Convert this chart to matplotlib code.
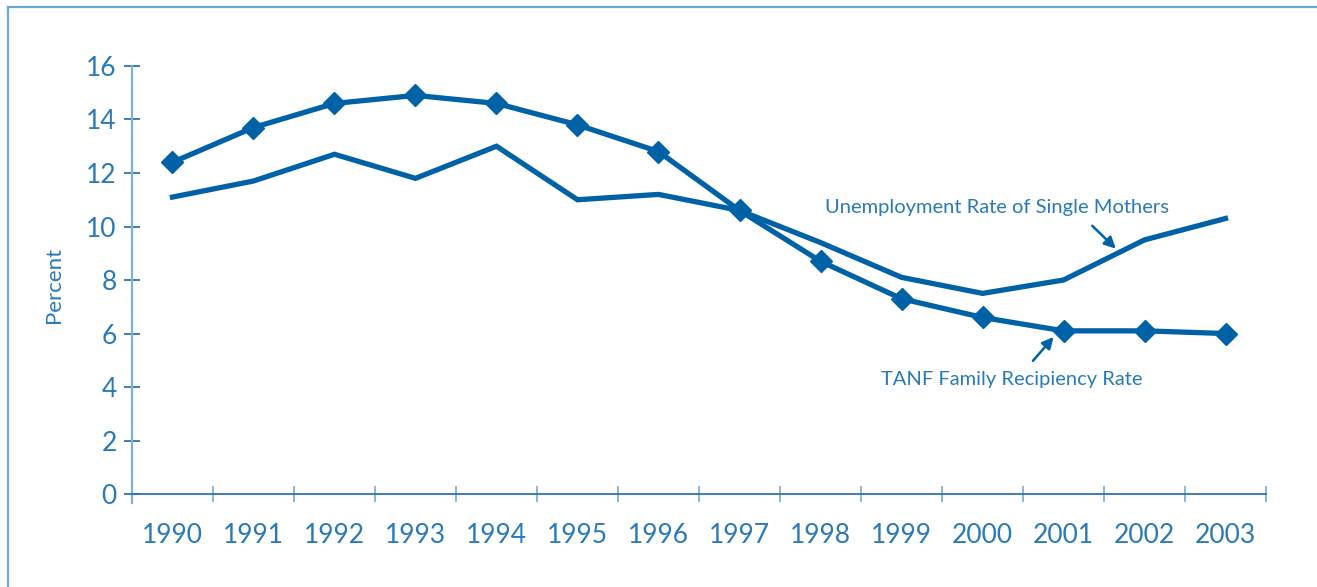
"""TANF family recipiency rate vs. unemployment rate of single mothers, 1990-2003."""
import matplotlib

matplotlib.use('Agg')
import matplotlib.pyplot as plt
from matplotlib.lines import Line2D

plt.rcParams['font.family'] = ['Lato', 'DejaVu Sans']

years = ['1990', '1991', '1992', '1993', '1994', '1995', '1996',
         '1997', '1998', '1999', '2000', '2001', '2002', '2003']
tanf_rate = [12.4, 13.7, 14.6, 14.9, 14.6, 13.8, 12.8,
             10.6, 8.7, 7.3, 6.6, 6.1, 6.1, 6.0]
unemp_rate = [11.1, 11.7, 12.7, 11.8, 13.0, 11.0, 11.2,
              10.6, 9.4, 8.1, 7.5, 8.0, 9.5, 10.3]
y_ticks = [0, 2, 4, 6, 8, 10, 12, 14, 16]

LINE = '#0062a6'
TEXT = '#2a7ab8'
AXIS_LIGHT = '#7fb0d6'
AXIS_DARK = '#2f73ad'
FRAME = '#6ea9d6'

fig = plt.figure(figsize=(13.17, 5.87), dpi=100)
ax = fig.add_axes([0.1002, 0.1424, 0.8611, 0.7452])

x = list(range(len(years)))
ax.plot(x, unemp_rate, color=LINE, lw=3.8, solid_joinstyle='miter')
ax.plot(x, tanf_rate, color=LINE, lw=3.8, marker='D', ms=11,
        solid_joinstyle='miter')

ax.set_xlim(-0.5, len(years) - 0.5)
ax.set_ylim(-0.35, 16)

for s in ['top', 'right']:
    ax.spines[s].set_visible(False)
ax.spines['left'].set_color(AXIS_LIGHT)
ax.spines['left'].set_linewidth(1.6)
ax.spines['bottom'].set_position(('data', 0))
ax.spines['bottom'].set_color(AXIS_DARK)
ax.spines['bottom'].set_linewidth(1.3)

ax.set_yticks(y_ticks)
ax.set_yticklabels([str(v) for v in y_ticks])
ax.tick_params(axis='y', direction='inout', length=12, width=1.3,
               color=AXIS_DARK, labelcolor=TEXT, labelsize=19, pad=5)

# ticks on category boundaries, labels at the centres
ax.set_xticks([i - 0.5 for i in range(len(years) + 1)])
ax.set_xticklabels([])
ax.set_xticks(x, minor=True)
ax.set_xticklabels(years, minor=True)
ax.tick_params(axis='x', which='major', direction='inout', length=12,
               width=1.3, color=AXIS_LIGHT)
ax.tick_params(axis='x', which='minor', length=0, labelcolor=TEXT,
               labelsize=19, pad=21)

ax.set_ylabel('Percent', color=TEXT, fontsize=16, labelpad=16)

ax.annotate('Unemployment Rate of Single Mothers', xy=(8.05, 10.7),
            color=TEXT, fontsize=14.5, ha='left', va='center')
ax.annotate('', xy=(11.67, 9.1), xytext=(11.33, 10.1),
            arrowprops=dict(arrowstyle='-|>', color=LINE, lw=1.8,
                            mutation_scale=17))
ax.annotate('TANF Family Recipiency Rate', xy=(8.75, 4.3),
            color=TEXT, fontsize=14.5, ha='left', va='center')
ax.annotate('', xy=(10.9, 5.95), xytext=(10.6, 4.9),
            arrowprops=dict(arrowstyle='-|>', color=LINE, lw=1.8,
                            mutation_scale=17))

# outer frame: top and left edges only
fig.add_artist(Line2D([8 / 1317, 1.0], [1 - 7 / 587, 1 - 7 / 587],
                      transform=fig.transFigure, color=FRAME, lw=1.6))
fig.add_artist(Line2D([8 / 1317, 8 / 1317], [0, 1 - 7 / 587],
                      transform=fig.transFigure, color=FRAME, lw=1.6))

fig.savefig('out.png', dpi=100)
